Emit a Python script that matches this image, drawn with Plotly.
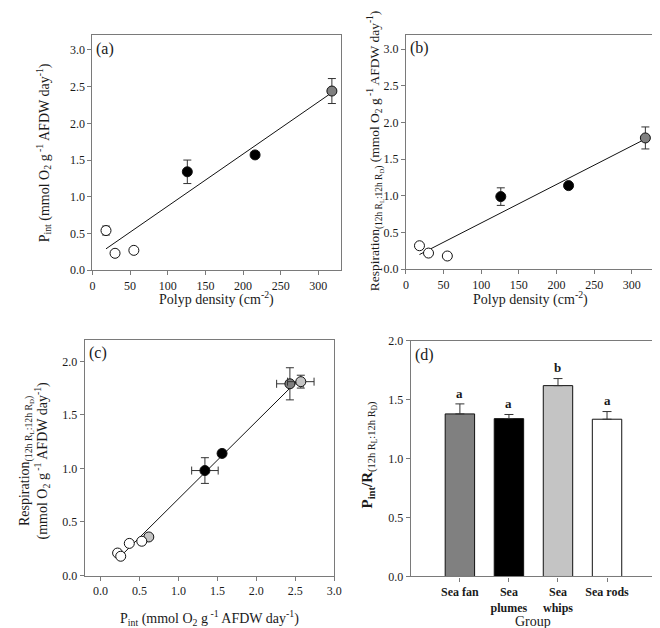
import numpy as np
import plotly.graph_objects as go

# ---------------- data ----------------
groups = ["Sea fan", "Sea plumes", "Sea whips", "Sea rods"]
group_colors = {"Sea fan": "#808080", "Sea plumes": "#000000",
                "Sea whips": "#c4c4c4", "Sea rods": "#ffffff"}

# panels (a) and (b)
density = [18, 30, 55, 126, 216, 318]
density_group = ["Sea rods", "Sea rods", "Sea rods", "Sea plumes", "Sea plumes", "Sea fan"]
pint = [0.54, 0.23, 0.27, 1.34, 1.57, 2.44]
pint_err = [0.06, 0.02, 0.02, 0.16, 0.02, 0.17]
resp = [0.32, 0.22, 0.18, 0.99, 1.14, 1.79]
resp_err = [0.01, 0.02, 0.01, 0.12, 0.03, 0.15]

# panel (c)
c_pint = [0.22, 0.26, 0.37, 0.53, 0.62, 1.34, 1.56, 2.43, 2.57]
c_pint_err = [0.0, 0.02, 0.0, 0.04, 0.0, 0.17, 0.02, 0.17, 0.17]
c_resp = [0.21, 0.18, 0.30, 0.32, 0.36, 0.98, 1.14, 1.79, 1.81]
c_resp_err = [0.0, 0.02, 0.0, 0.0, 0.0, 0.12, 0.03, 0.15, 0.06]
c_group = ["Sea rods", "Sea rods", "Sea rods", "Sea rods", "Sea whips",
           "Sea plumes", "Sea plumes", "Sea fan", "Sea whips"]

# panel (d)
ratio = [1.38, 1.34, 1.62, 1.335]
ratio_err = [0.085, 0.035, 0.06, 0.065]
letters = ["a", "a", "b", "a"]
group_ticks = ["Sea fan", "Sea<br>plumes", "Sea<br>whips", "Sea rods"]

# ---------------- figure ----------------
FONT = "Liberation Serif"
TXT = "#1a1a1a"
AX = "#7a7a7a"
W, H = 660, 628

def dom_x(a, b):
    return [a / W, b / W]

def dom_y(top, bottom):
    return [1 - bottom / H, 1 - top / H]

fig = go.Figure()

def scatter_panel(xs, ys, ex, ey, grp, xa, ya):
    for g in groups:
        idx = [i for i, v in enumerate(grp) if v == g]
        if not idx:
            continue
        tr = dict(
            x=[xs[i] for i in idx], y=[ys[i] for i in idx], mode="markers",
            marker=dict(size=10, color=group_colors[g], line=dict(color="#111", width=1)),
            showlegend=False, xaxis=xa, yaxis=ya,
            error_y=dict(type="data", array=[ey[i] for i in idx], color="#333",
                         thickness=1, width=4),
        )
        if ex is not None:
            tr["error_x"] = dict(type="data", array=[ex[i] for i in idx], color="#333",
                                 thickness=1, width=4)
        fig.add_trace(go.Scatter(**tr))

def fit_line(xs, ys, xa, ya):
    m, b = np.polyfit(xs, ys, 1)
    lx = np.array([min(xs), max(xs)])
    fig.add_trace(go.Scatter(x=lx, y=m * lx + b, mode="lines",
                             line=dict(color="#111", width=1),
                             showlegend=False, xaxis=xa, yaxis=ya, hoverinfo="skip"))

# (a)
fit_line(density, pint, "x", "y")
scatter_panel(density, pint, None, pint_err, density_group, "x", "y")
# (b)
fit_line(density, resp, "x2", "y2")
scatter_panel(density, resp, None, resp_err, density_group, "x2", "y2")
# (c)
fit_line(c_pint, c_resp, "x3", "y3")
scatter_panel(c_pint, c_resp, c_pint_err, c_resp_err, c_group, "x3", "y3")
# (d)
fig.add_trace(go.Bar(
    x=list(range(len(groups))), y=ratio, width=0.6,
    marker=dict(color=[group_colors[g] for g in groups], line=dict(color="#111", width=1)),
    error_y=dict(type="data", array=ratio_err, arrayminus=[0] * len(groups), symmetric=False,
                 color="#333", thickness=1, width=4.5),
    showlegend=False, xaxis="x4", yaxis="y4"))

axis_common = dict(showline=True, linecolor=AX, linewidth=1.2, mirror=True,
                   ticks="outside", ticklen=4, tickcolor=AX, showgrid=False, zeroline=False,
                   tickfont=dict(family=FONT, size=12, color=TXT))

fig.update_layout(
    width=W, height=H, margin=dict(l=0, r=0, t=0, b=0),
    paper_bgcolor="white", plot_bgcolor="white",
    font=dict(family=FONT, color=TXT),
    xaxis=dict(domain=dom_x(82.7, 335), range=[0, 330], tickvals=[0, 50, 100, 150, 200, 250, 300], anchor="y", **axis_common),
    yaxis=dict(domain=dom_y(20.7, 261), range=[0, 3.2], tickvals=[0, 0.5, 1, 1.5, 2, 2.5, 3], tickformat=".1f", anchor="x", **axis_common),
    xaxis2=dict(domain=dom_x(401, 653.3), range=[0, 330], tickvals=[0, 50, 100, 150, 200, 250, 300], anchor="y2", **axis_common),
    yaxis2=dict(domain=dom_y(20, 260), range=[0, 3.2], tickvals=[0, 0.5, 1, 1.5, 2, 2.5, 3], tickformat=".1f", anchor="x2", **axis_common),
    xaxis3=dict(domain=dom_x(75, 328.3), range=[-0.2, 3.0], tickvals=[0, 0.5, 1, 1.5, 2, 2.5, 3], tickformat=".1f", anchor="y3", **axis_common),
    yaxis3=dict(domain=dom_y(332.3, 573.3), range=[0, 2.2], tickvals=[0, 0.5, 1, 1.5, 2], tickformat=".1f", anchor="x3", **axis_common),
    xaxis4=dict(domain=dom_x(406, 655), range=[-1, 4], tickvals=list(range(len(groups))), ticktext=["<b>%s</b>" % t for t in group_ticks], anchor="y4", **axis_common),
    yaxis4=dict(domain=dom_y(333.3, 574.3), range=[0, 2.0], tickvals=[0, 0.5, 1, 1.5, 2], tickformat=".1f", anchor="x4", **axis_common),
)

RESP_SUB = "<sub>(12h R<sub>L</sub>:12h R<sub>D</sub>)</sub>"
UNITS = "(mmol O<sub>2</sub> g<sup> -1</sup> AFDW day<sup>-1</sup>)"

anns = [
    # panel labels
    dict(text="(a)", x=84.5, y=35, size=16),
    dict(text="(b)", x=403, y=34, size=16),
    dict(text="(c)", x=77, y=346, size=16),
    dict(text="(d)", x=408, y=348, size=16),
]
for a in anns:
    fig.add_annotation(text=a["text"], xref="paper", yref="paper", x=a["x"] / W, y=1 - a["y"] / H,
                       xanchor="left", yanchor="middle", showarrow=False,
                       font=dict(family=FONT, size=a["size"], color=TXT))

def title(text, x, y, angle=0, size=14):
    fig.add_annotation(text=text, xref="paper", yref="paper", x=x / W, y=1 - y / H,
                       xanchor="center", yanchor="middle", showarrow=False, textangle=angle,
                       font=dict(family=FONT, size=size, color=TXT))

title("Polyp density (cm<sup>-2</sup>)", 209, 290)
title("P<sub>int</sub> " + UNITS, 33, 141, -90)
title("Polyp density (cm<sup>-2</sup>)", 527, 290)
title("Respiration" + RESP_SUB + " " + UNITS, 370, 139, -90, size=13.5)
title("P<sub>int</sub> " + UNITS, 202, 617)
title("Respiration" + RESP_SUB + "<br>" + UNITS, 24, 456, -90)
title("Group", 530, 620)
title("<b>P<sub>int</sub>/R</b>" + RESP_SUB, 363, 450, -90, size=15)

# significance letters above bars
for i, (v, e, l) in enumerate(zip(ratio, ratio_err, letters)):
    fig.add_annotation(text="<b>%s</b>" % l, x=i, y=v + e + 0.09, xref="x4", yref="y4",
                       showarrow=False, yanchor="middle",
                       font=dict(family=FONT, size=13, color=TXT))

fig.write_html("out.html")
